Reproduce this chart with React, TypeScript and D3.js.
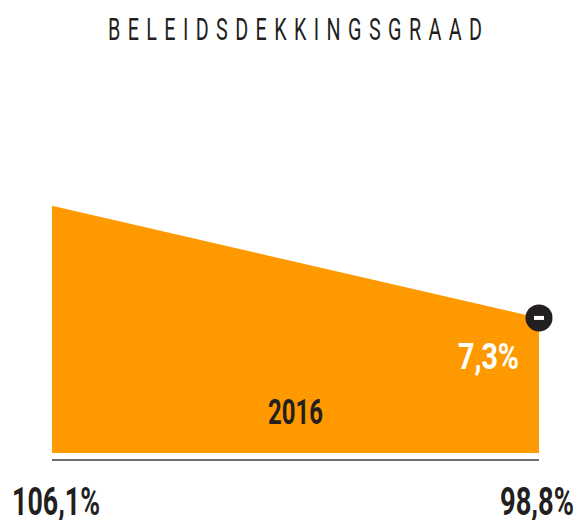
import React, { useLayoutEffect, useRef, useState } from "react";
import * as d3 from "d3";

const title = "BELEIDSDEKKINGSGRAAD";
const yearLabel = "2016";
const startLabel = "106,1%";
const endLabel = "98,8%";
const changeLabel = "7,3%";
const points = [
  { pos: 0, value: 106.1 },
  { pos: 1, value: 98.8 },
];
const baseValue = 90;

const W = 584;
const H = 520;
const font = "Roboto, 'DejaVu Sans', sans-serif";

function FitText(props: {
  x: number;
  y: number;
  width: number;
  size: number;
  weight: number | string;
  fill: string;
  spacing?: number;
  children: string;
}) {
  const ref = useRef<SVGTextElement>(null);
  const [sx, setSx] = useState(0.7);
  useLayoutEffect(() => {
    if (ref.current) {
      const bb = ref.current.getBBox();
      const sp = props.spacing || 0;
      const natural = bb.width - sp;
      if (natural > 0) setSx(props.width / natural);
    }
  }, [props.width, props.children]);
  return (
    <text
      ref={ref}
      transform={`translate(${props.x},${props.y}) scale(${sx},1)`}
      fontFamily={font}
      fontSize={props.size}
      fontWeight={props.weight}
      letterSpacing={props.spacing || 0}
      fill={props.fill}
    >
      {props.children}
    </text>
  );
}

export default function App() {
  const x = d3.scaleLinear().domain([0, 1]).range([52, 539]);
  const y = d3.scaleLinear().domain([baseValue, 110]).range([453, 146]);
  const area = d3
    .area<{ pos: number; value: number }>()
    .x((d) => x(d.pos))
    .y0(y(baseValue))
    .y1((d) => y(d.value));
  const last = points[points.length - 1];
  const cx = x(last.pos);
  const cy = y(last.value);
  return (
    <svg width={W} height={H} style={{ position: "absolute", left: 0, top: 0 }}>
      <FitText x={108} y={40} width={374} size={32} weight={400} spacing={12} fill="#231f20">
        {title}
      </FitText>
      <path d={area(points) || ""} fill="#ff9900" />
      <line x1={x(0)} x2={x(1)} y1={460} y2={460} stroke="#6d6d6d" strokeWidth={2} />
      <circle cx={cx} cy={cy} r={13.5} fill="#231f20" />
      <rect x={cx - 5} y={cy - 2} width={10} height={4} fill="#fff" />
      <FitText x={458} y={369} width={61} size={36} weight="bold" fill="#fff">
        {changeLabel}
      </FitText>
      <FitText x={268} y={424} width={55} size={36} weight="bold" fill="#231f20">
        {yearLabel}
      </FitText>
      <FitText x={12} y={515} width={88} size={38} weight="bold" fill="#231f20">
        {startLabel}
      </FitText>
      <FitText x={500} y={515} width={74} size={38} weight="bold" fill="#231f20">
        {endLabel}
      </FitText>
    </svg>
  );
}
